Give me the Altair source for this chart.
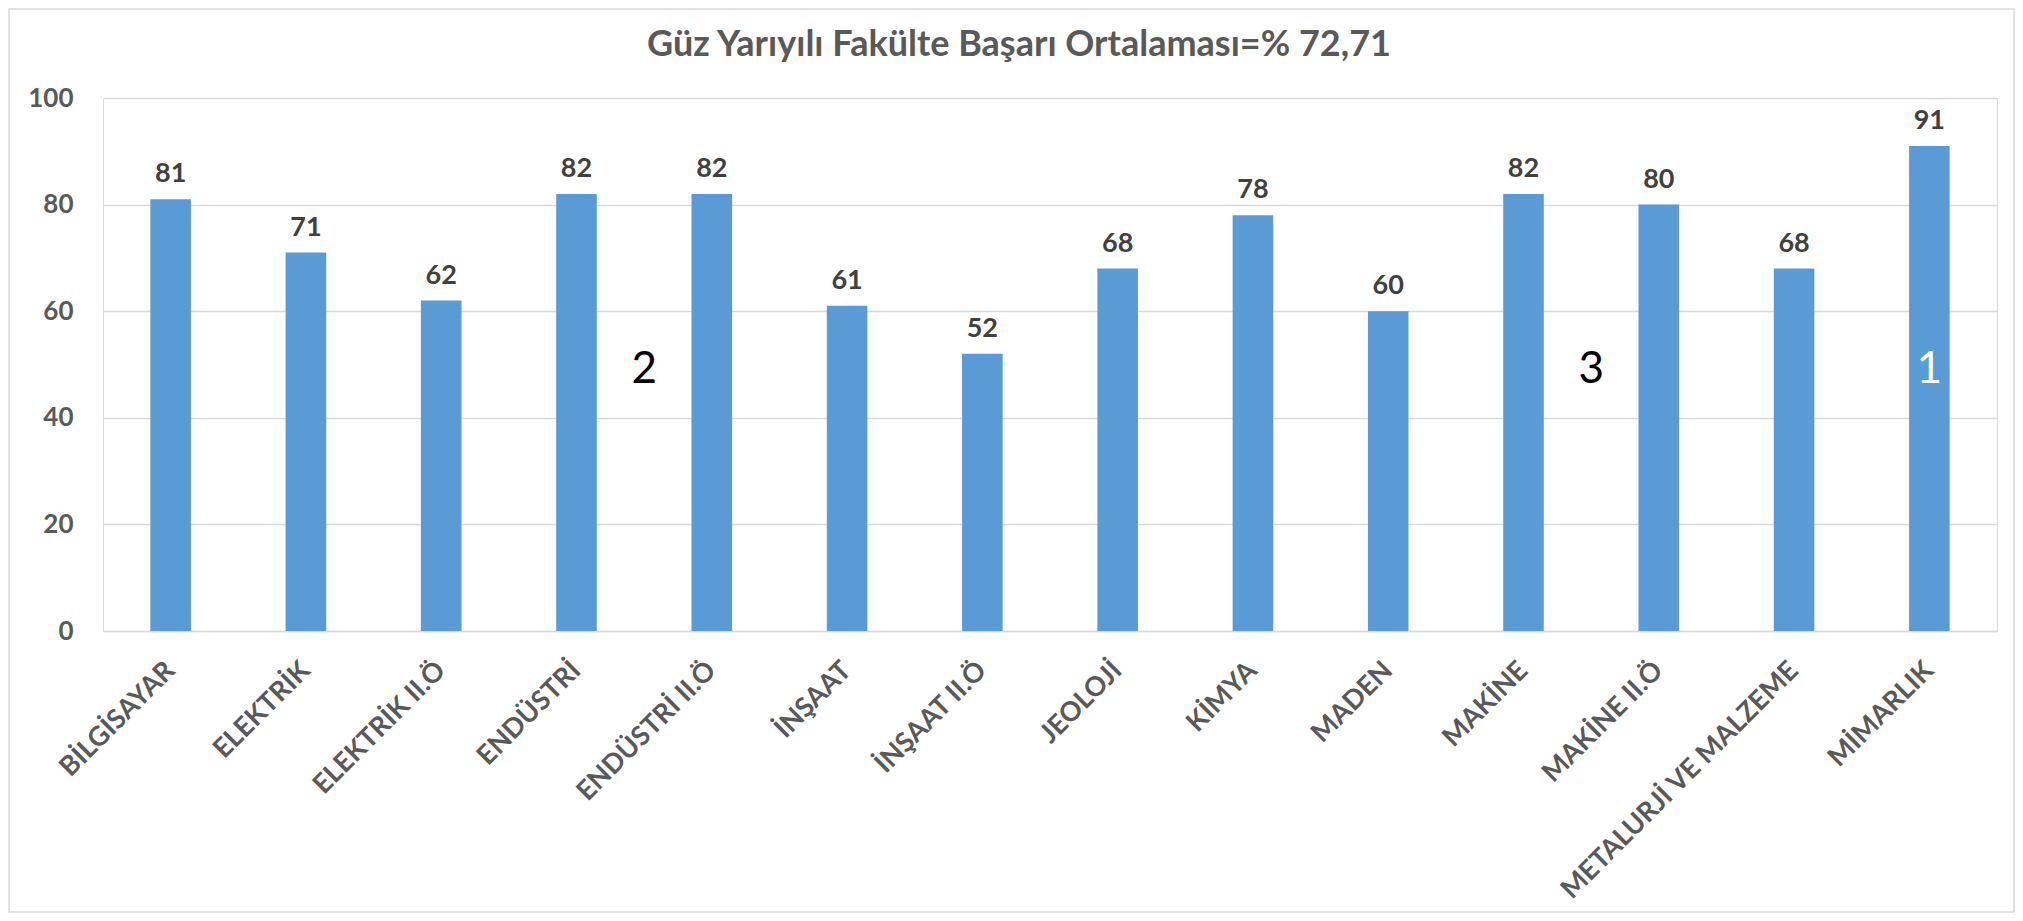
import altair as alt
import pandas as pd

categories = ["BİLGİSAYAR", "ELEKTRİK", "ELEKTRİK II.Ö", "ENDÜSTRİ", "ENDÜSTRİ II.Ö",
              "İNŞAAT", "İNŞAAT II.Ö", "JEOLOJİ", "KİMYA", "MADEN", "MAKİNE",
              "MAKİNE II.Ö", "METALURJİ VE MALZEME", "MİMARLIK"]
values = [81, 71, 62, 82, 82, 61, 52, 68, 78, 60, 82, 80, 68, 91]

ann_labels_between = ["2", "3"]
ann_cats_between = ["ENDÜSTRİ", "MAKİNE"]
ann_y_between = [49, 49]
ann_labels_inside = ["1"]
ann_cats_inside = ["MİMARLIK"]
ann_y_inside = [49]

title_text = "Güz Yarıyılı Fakülte Başarı Ortalaması=% 72,71"

FONT = "Lato"
W, H = 1894, 533
PAD_L, PAD_T, PAD_R, PAD_B = 95, 90, 18, 282

df = pd.DataFrame({"cat": categories, "val": values})
df_a = pd.DataFrame({"cat": ann_cats_between, "y": ann_y_between, "t": ann_labels_between})
df_b = pd.DataFrame({"cat": ann_cats_inside, "y": ann_y_inside, "t": ann_labels_inside})

xscale = alt.Scale(domain=categories, paddingInner=0.7, paddingOuter=0.35)
yscale = alt.Scale(domain=[0, 100])

x = alt.X("cat:N", scale=xscale, sort=categories,
          axis=alt.Axis(title=None, labelAngle=-45, labelAlign="right", labelBaseline="middle",
                        labelFont=FONT, labelFontSize=27, labelFontWeight="bold",
                        labelColor="#595959", labelPadding=35, ticks=False,
                        domainColor="#D9D9D9", domainWidth=1.5, labelLimit=0))
y = alt.Y("val:Q", scale=yscale,
          axis=alt.Axis(title=None, values=[0, 20, 40, 60, 80, 100], domain=False, ticks=False,
                        labelFont=FONT, labelFontSize=26, labelFontWeight="bold",
                        labelColor="#595959", labelPadding=30,
                        gridColor="#D9D9D9", gridWidth=1.3))

base = alt.Chart(df)
bars = base.mark_bar(color="#5B9BD5").encode(x=x, y=y)
labels = base.mark_text(font=FONT, fontSize=27, fontWeight="bold", color="#404040",
                        baseline="alphabetic", dy=-17).encode(
    x=alt.X("cat:N", scale=xscale, sort=categories), y=alt.Y("val:Q", scale=yscale), text="val:Q")

ann_a = alt.Chart(df_a).mark_text(font=FONT, fontSize=44, color="#000000",
                                  baseline="middle", dx=W / 14 / 2).encode(
    x=alt.X("cat:N", scale=xscale, sort=categories), y=alt.Y("y:Q", scale=yscale), text="t:N")
ann_b = alt.Chart(df_b).mark_text(font=FONT, fontSize=44, color="#FFFFFF",
                                  baseline="middle").encode(
    x=alt.X("cat:N", scale=xscale, sort=categories), y=alt.Y("y:Q", scale=yscale), text="t:N")

single = alt.Data(values=[{"t": title_text}])
title = alt.Chart(single).mark_text(font=FONT, fontSize=36, fontWeight="bold", color="#595959",
                                    baseline="middle", align="center").encode(
    x=alt.value(W / 2 - 31), y=alt.value(-53), text="t:N")

border = alt.Chart(single).mark_rect(filled=False, stroke="#D9D9D9", strokeWidth=1.5).encode(
    x=alt.value(-PAD_L + 1), x2=alt.value(W + PAD_R - 1),
    y=alt.value(-PAD_T + 1), y2=alt.value(H + PAD_B - 1))

chart = alt.layer(border, bars, labels, ann_a, ann_b, title).properties(
    width=W, height=H,
    autosize=alt.AutoSizeParams(type="none"),
    padding={"left": PAD_L, "top": PAD_T, "right": PAD_R, "bottom": PAD_B},
).configure_view(stroke=None).configure(background="white")

chart.save("out.html", embed_options={"renderer": "svg", "actions": False})
